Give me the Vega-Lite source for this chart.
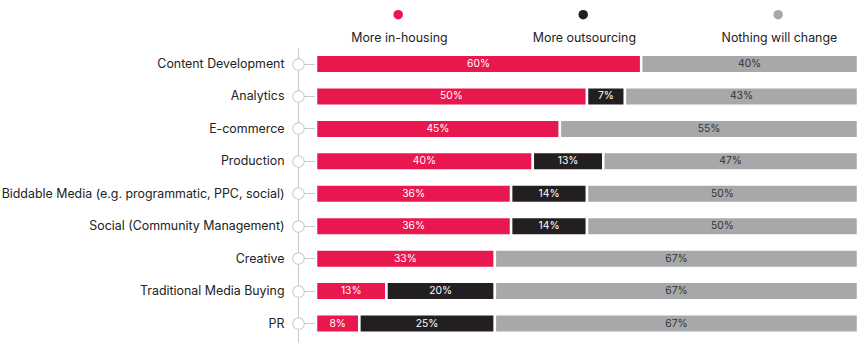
{
  "$schema": "https://vega.github.io/schema/vega-lite/v6.json",
  "width": 542,
  "height": 295,
  "autosize": "none",
  "padding": {"left": 316, "top": 48, "right": 7, "bottom": 0},
  "background": "white",
  "config": {
    "view": {"stroke": null},
    "font": "Inter",
    "style": {"guide-label": {"lineHeight": 17.5}}
  },
  "data": {
    "values": [
      {"category": "Content Development", "series": "More in-housing", "value": 0.60},
      {"category": "Content Development", "series": "Nothing will change", "value": 0.40},
      {"category": "Analytics", "series": "More in-housing", "value": 0.50},
      {"category": "Analytics", "series": "More outsourcing", "value": 0.07},
      {"category": "Analytics", "series": "Nothing will change", "value": 0.43},
      {"category": "E-commerce", "series": "More in-housing", "value": 0.45},
      {"category": "E-commerce", "series": "Nothing will change", "value": 0.55},
      {"category": "Production", "series": "More in-housing", "value": 0.40},
      {"category": "Production", "series": "More outsourcing", "value": 0.13},
      {"category": "Production", "series": "Nothing will change", "value": 0.47},
      {"category": "Biddable Media (e.g. programmatic, PPC, social)", "series": "More in-housing", "value": 0.36},
      {"category": "Biddable Media (e.g. programmatic, PPC, social)", "series": "More outsourcing", "value": 0.14},
      {"category": "Biddable Media (e.g. programmatic, PPC, social)", "series": "Nothing will change", "value": 0.50},
      {"category": "Social (Community Management)", "series": "More in-housing", "value": 0.36},
      {"category": "Social (Community Management)", "series": "More outsourcing", "value": 0.14},
      {"category": "Social (Community Management)", "series": "Nothing will change", "value": 0.50},
      {"category": "Creative", "series": "More in-housing", "value": 0.33},
      {"category": "Creative", "series": "Nothing will change", "value": 0.67},
      {"category": "Traditional Media Buying", "series": "More in-housing", "value": 0.13},
      {"category": "Traditional Media Buying", "series": "More outsourcing", "value": 0.20},
      {"category": "Traditional Media Buying", "series": "Nothing will change", "value": 0.67},
      {"category": "PR", "series": "More in-housing", "value": 0.08},
      {"category": "PR", "series": "More outsourcing", "value": 0.25},
      {"category": "PR", "series": "Nothing will change", "value": 0.67}
    ]
  },
  "layer": [
    {
      "mark": {"type": "bar", "stroke": "white", "strokeWidth": 2.5},
      "encoding": {
        "y": {
          "field": "category", "type": "nominal", "sort": null, "title": null,
          "scale": {"paddingInner": 0.43, "paddingOuter": 0.263, "align": 0.4},
          "axis": {
            "orient": "left", "offset": 18, "grid": false,
            "domain": true, "domainColor": "#c9c9c9", "domainWidth": 1,
            "ticks": true, "tickSize": 0.01, "tickWidth": 12.5, "tickCap": "round", "tickColor": "#c9c9c9",
            "bandPosition": 0.5,
            "labels": true, "labelPadding": 14, "labelFontSize": 12.4, "labelFont": "Inter",
            "labelColor": "#222222", "labelLimit": 400, "zindex": 0
          }
        },
        "x": {
          "field": "value", "type": "quantitative", "stack": "zero",
          "scale": {"domain": [0, 1], "nice": false}, "axis": null
        },
        "color": {
          "field": "series", "type": "nominal",
          "scale": {
            "domain": ["More in-housing", "More outsourcing", "Nothing will change"],
            "range": ["#E8174D", "#231F20", "#A7A8AA"]
          },
          "legend": {
            "orient": "none", "legendX": 76, "legendY": -40,
            "direction": "horizontal", "title": null,
            "symbolType": "circle", "symbolSize": 90, "symbolStrokeWidth": 0,
            "labelAlign": "center", "labelOffset": -5, "labelBaseline": "top",
            "labelExpr": "['', datum.label]",
            "labelFontSize": 12.4, "labelFont": "Inter", "labelColor": "#222222",
            "columnPadding": 84, "padding": 0, "labelLimit": 300
          }
        },
        "order": {"field": "series", "type": "ordinal", "sort": "ascending"}
      }
    },
    {
      "mark": {"type": "text", "fontSize": 10.3, "font": "Inter"},
      "encoding": {
        "y": {
          "field": "category", "type": "nominal", "sort": null, "title": null,
          "axis": {
            "orient": "left", "offset": 18, "grid": false, "domain": false, "labels": false,
            "ticks": true, "tickSize": -18, "tickWidth": 1, "tickColor": "#c9c9c9",
            "bandPosition": 0.5, "zindex": 0
          }
        },
        "x": {"field": "value", "type": "quantitative", "stack": "zero", "bandPosition": 0.5, "axis": null},
        "detail": {"field": "series", "type": "nominal"},
        "order": {"field": "series", "type": "ordinal", "sort": "ascending"},
        "text": {"field": "value", "type": "quantitative", "format": ".0%"},
        "color": {
          "condition": {"test": "datum.series === 'Nothing will change'", "value": "#333333"},
          "value": "white"
        }
      }
    },
    {
      "mark": {"type": "rule", "opacity": 0},
      "encoding": {
        "y": {
          "field": "category", "type": "nominal", "sort": null, "title": null,
          "axis": {
            "orient": "left", "offset": 18, "grid": false, "domain": false, "labels": false,
            "ticks": true, "tickSize": 0.01, "tickWidth": 10.5, "tickCap": "round", "tickColor": "white",
            "bandPosition": 0.5, "zindex": 1
          }
        }
      }
    }
  ],
  "resolve": {"axis": {"y": "independent"}}
}
